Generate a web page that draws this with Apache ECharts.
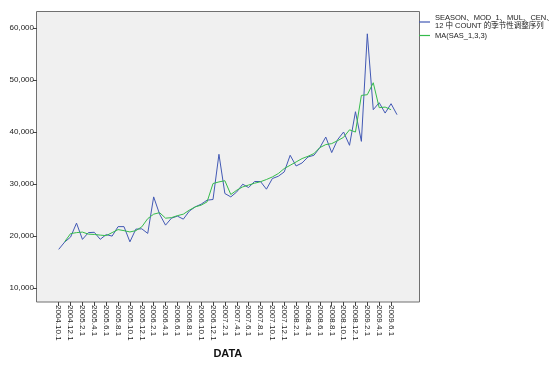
<!DOCTYPE html>
<html>
<head>
<meta charset="utf-8">
<script src="https://cdn.jsdelivr.net/npm/echarts@6/dist/echarts.min.js"></script>
<style>html,body{margin:0;padding:0;background:#fff;}#c{width:554px;height:368px;}</style>
</head>
<body>
<div id="c"></div>
<script>
var months = ["2004.10.1","2004.11.1","2004.12.1",
"2005.1.1","2005.2.1","2005.3.1","2005.4.1","2005.5.1","2005.6.1","2005.7.1","2005.8.1","2005.9.1","2005.10.1","2005.11.1","2005.12.1",
"2006.1.1","2006.2.1","2006.3.1","2006.4.1","2006.5.1","2006.6.1","2006.7.1","2006.8.1","2006.9.1","2006.10.1","2006.11.1","2006.12.1",
"2007.1.1","2007.2.1","2007.3.1","2007.4.1","2007.5.1","2007.6.1","2007.7.1","2007.8.1","2007.9.1","2007.10.1","2007.11.1","2007.12.1",
"2008.1.1","2008.2.1","2008.3.1","2008.4.1","2008.5.1","2008.6.1","2008.7.1","2008.8.1","2008.9.1","2008.10.1","2008.11.1","2008.12.1",
"2009.1.1","2009.2.1","2009.3.1","2009.4.1","2009.5.1","2009.6.1","2009.7.1"];

var seasonName = "SEASON\u3001MOD_1\u3001MUL\u3001CEN\u3001\n12 \u4e2d COUNT \u7684\u5b63\u8282\u6027\u8c03\u6574\u5e8f\u5217";
var maName = "MA(SAS_1,3,3)";

var seasonAdj = [17430,18830,19790,22470,19350,20650,20710,19360,20270,19980,21800,21800,18880,21320,21380,20500,27520,24200,22090,23430,23820,
23240,24780,25600,26120,26890,27020,35710,28170,27520,28480,29960,29320,30480,30480,29000,31050,31490,32320,35520,33470,34040,35200,35520,37000,
39030,36040,38540,40000,37440,43900,38200,58880,44290,45640,43640,45440,43330];

var movingAvg = [null,18890,20460,20650,20750,20360,20300,20170,20070,20650,21230,21030,20780,21030,21760,23340,24200,24490,23430,23530,23910,
24200,24970,25600,25930,26560,30090,30400,30630,27980,28810,29440,29800,30150,30440,30860,31360,32010,32970,33600,34240,34890,35330,35850,37000,
37580,37770,38340,38980,40420,39990,47040,47170,49470,44680,44790,44290,null];

var yTicks = [10000,20000,30000,40000,50000,60000];

var font = "'Liberation Sans', Arial, 'Noto Sans CJK SC', sans-serif";
var chart = echarts.init(document.getElementById('c'), null, {renderer:'canvas'});
chart.setOption({
  animation: false,
  backgroundColor: '#ffffff',
  graphic: [{
    type: 'rect', z: 0, silent: true,
    shape: {x: 36.5, y: 11.5, width: 383, height: 290.5},
    style: {fill: '#f0f0f0', stroke: '#707070', lineWidth: 1}
  }],
  legend: [{
    data: [seasonName],
    orient: 'vertical', left: 419, top: 14, padding: 0,
    icon: 'rect', itemWidth: 11, itemHeight: 1.2,
    textStyle: {fontFamily: font, fontSize: 7.5, color: '#222', lineHeight: 8}
  },{
    data: [maName],
    orient: 'vertical', left: 419, top: 31.5, padding: 0,
    icon: 'rect', itemWidth: 11, itemHeight: 1.2,
    textStyle: {fontFamily: font, fontSize: 7.5, color: '#222', lineHeight: 8}
  }],
  grid: {left: 58.7, right: 157, top: 28, bottom: 80, containLabel: false},
  xAxis: {
    type: 'category', data: months, boundaryGap: false, offset: 14,
    name: 'DATA', nameLocation: 'middle', nameGap: 46,
    nameTextStyle: {fontFamily: font, fontSize: 11, fontWeight: 'bold', color: '#111'},
    axisLine: {show: false},
    axisTick: {show: true, interval: 1, length: 4, lineStyle: {color: '#444'}},
    axisLabel: {interval: 1, rotate: -90, fontFamily: font, fontSize: 8, color: '#222', margin: 3},
    splitLine: {show: false}
  },
  yAxis: {
    type: 'value', min: 10000, max: 60000, interval: 10000, offset: 21.7,
    axisLine: {show: false},
    axisTick: {show: true, length: 4, lineStyle: {color: '#444'}},
    axisLabel: {fontFamily: font, fontSize: 8, color: '#222', margin: 3,
      formatter: function(v){ return yTicks.indexOf(v) >= 0 ? v.toLocaleString('en-US') : ''; }},
    splitLine: {show: false}
  },
  series: [{
    name: seasonName, type: 'line', data: seasonAdj, showSymbol: false, symbol: 'none',
    lineStyle: {color: '#4259b4', width: 1}, itemStyle: {color: '#4259b4'}, z: 3
  },{
    name: maName, type: 'line', data: movingAvg, showSymbol: false, symbol: 'none',
    lineStyle: {color: '#35bb4c', width: 1}, itemStyle: {color: '#35bb4c'}, z: 4
  }]
});
</script>
</body>
</html>
